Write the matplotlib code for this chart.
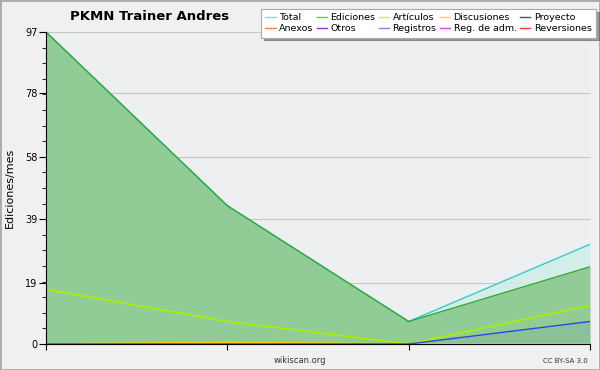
import numpy as np
import matplotlib.pyplot as plt
from matplotlib.lines import Line2D
from matplotlib.patches import Rectangle

# valores (edicoes por mes)
meses = [0, 1, 2, 3]
total = [97, 43, 7, 31]
ediciones = [97, 43, 7, 24]
articulos = [17, 7, 0, 12]
discusiones = [0, 0.5, 0, 0]
registros = [0, 0, 0, 7]

series_leyenda = [
  ["Total", "#7fdfdf"], ["Ediciones", "#66c266"], ["Artículos", "#ccf24d"],
  ["Discusiones", "#ffd633"], ["Proyecto", "#555555"],
  ["Anexos", "#ff8040"], ["Otros", "#8833dd"], ["Registros", "#8080ff"],
  ["Reg. de adm.", "#dd44dd"], ["Reversiones", "#ff3333"],
]

fig = plt.figure(figsize=(6, 3.7), dpi=100, facecolor="#f0f0f0")
ax = fig.add_axes([46/600, 26/370, 544/600, 312/370], facecolor="#eeeff1")

ax.fill_between(meses, 0, total, color="#cdeee6", alpha=0.8, lw=0)
ax.fill_between(meses, 0, ediciones, color="#8cc98f", alpha=0.92, lw=0)
ax.fill_between(meses, 0, registros, color="#3344dd", alpha=0.08, lw=0)
ax.plot(meses, total, c="#33cccc", lw=1)
ax.plot(meses, ediciones, c="#33aa33", lw=1)
ax.plot(meses, articulos, c="#aaee00", lw=1.2)
ax.plot(meses, discusiones, c="#ffcc00", lw=1.2)
ax.plot(meses, registros, c="#3344dd", lw=1)

ax.set_xlim(0, 3)
ax.set_ylim(0, 97)
ax.set_yticks([0, 19, 39, 58, 78, 97])
ax.set_yticks(np.arange(0, 97.1, 97/20), minor=True)
ax.set_xticks(meses)
ax.set_xticklabels([])
ax.grid(axis="y", color="#c8c8c8", lw=0.8)
ax.set_axisbelow(True)
for s in ["top", "right"]:
  ax.spines[s].set_visible(False)
ax.tick_params(axis="y", which="major", length=5, labelsize=7, pad=1)
ax.tick_params(axis="y", which="minor", length=3)
ax.tick_params(axis="x", length=4, direction="out")
ax.set_ylabel("Ediciones/mes", fontsize=8)
ax.yaxis.set_label_coords(-0.058, 0.5)

orden = [0, 5, 1, 6, 2, 7, 3, 8, 4, 9]
handles = [Line2D([], [], color=series_leyenda[i][1], lw=1) for i in orden]
labels = [series_leyenda[i][0] for i in orden]
leg = fig.legend(handles, labels, ncol=5, loc="upper right", bbox_to_anchor=(0.993, 0.975),
  fontsize=6.8, frameon=True, fancybox=False, shadow=True, handlelength=1.1,
  handletextpad=0.35, columnspacing=0.35, labelspacing=0.2, borderpad=0.45,
  borderaxespad=0)
leg.get_frame().set_edgecolor("#aaaaaa")
leg.get_frame().set_linewidth(0.8)

fig.text(0.25, 0.955, "PKMN Trainer Andres", ha="center", va="center",
  fontsize=9.5, fontweight="bold")
fig.text(0.5, 0.027, "wikiscan.org", ha="center", va="center", fontsize=6, color="#333333")
fig.text(0.98, 0.024, "CC BY-SA 3.0", ha="right", va="center", fontsize=5, color="#333333")
fig.patches.append(Rectangle((0, 0), 1, 1, transform=fig.transFigure, fill=False,
  edgecolor="#aaaaaa", lw=2))

plt.savefig("out.png", dpi=100, facecolor=fig.get_facecolor())
